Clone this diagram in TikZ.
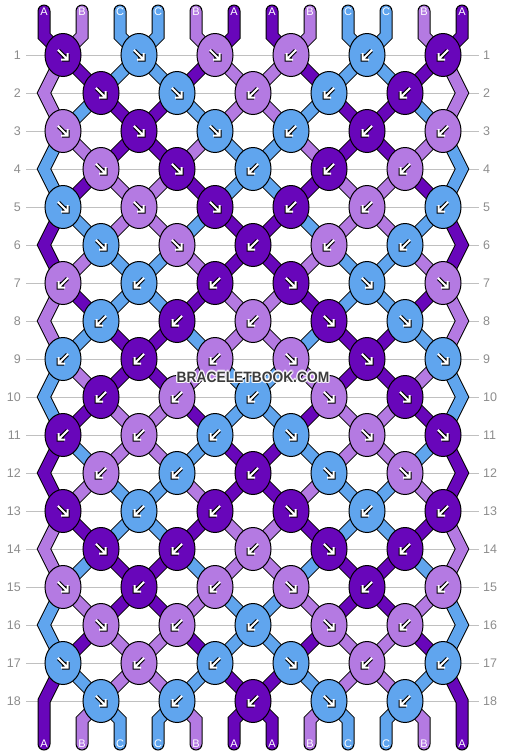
\documentclass[tikz,border=0pt]{standalone}
\usepackage{fontspec}
\setmainfont{Liberation Sans}
\usepackage{graphicx}
\usetikzlibrary{shapes.geometric}
\definecolor{cA}{RGB}{104,6,186}
\definecolor{cB}{RGB}{180,122,226}
\definecolor{cC}{RGB}{96,165,238}
\definecolor{gridgray}{RGB}{192,192,192}
\definecolor{numgray}{RGB}{140,140,140}
\definecolor{wmgray}{RGB}{60,60,60}
\pgfdeclarelayer{bg}
\pgfdeclarelayer{strands}
\pgfsetlayers{bg,strands,main}
\tikzset{
  knot/.style={ellipse, draw=black, line width=1pt, minimum width=36pt, minimum height=43pt, inner sep=0pt},
  rownum/.style={text=numgray, font=\fontsize{12.5}{12.5}\selectfont, inner sep=0pt},
  strlabel/.style={text=white, font=\fontsize{11}{11}\selectfont, inner sep=0pt},
  gridline/.style={draw=gridgray, line width=1pt},
  arrout/.style={draw=black, line width=4pt, line cap=square, line join=miter},
  arrin/.style={draw=white, line width=2pt, line cap=butt, line join=miter},
  wm/.style={font=\fontsize{15}{15}\selectfont\bfseries, inner sep=0pt},
  pics/arrF/.style={code={
    \draw[arrout] (-4.5,-4.5) -- (3.5,3.5) (4.5,-1) -- (4.5,4.5) -- (-1,4.5);
    \draw[arrin] (-5.1,-5.1) -- (3.5,3.5) (4.5,-2) -- (4.5,4.5) -- (-2,4.5);
  }},
  pics/arrB/.style={code={
    \draw[arrout] (4.5,-4.5) -- (-3.5,3.5) (-4.5,-1) -- (-4.5,4.5) -- (1,4.5);
    \draw[arrin] (5.1,-5.1) -- (-3.5,3.5) (-4.5,-2) -- (-4.5,4.5) -- (2,4.5);
  }},
}
\begin{document}
\begin{tikzpicture}[x=1pt,y=-1pt]
\useasboundingbox (0,0) rectangle (506,756);
% knot grid coordinates: N-row-position
\foreach \r in {1,...,18} {
  \pgfmathtruncatemacro\odd{mod(\r,2)}
  \pgfmathtruncatemacro\yy{55+38*(\r-1)}
  \foreach \p in {0,...,11} {
    \ifnum\odd=1
      \pgfmathtruncatemacro\xx{63+76*floor(\p/2)}
    \else
      \pgfmathtruncatemacro\xx{(\p==0) ? 44 : ((\p==11) ? 462 : 101+76*floor((\p-1)/2))}
    \fi
    \coordinate (N-\r-\p) at (\xx,\yy);
  }
}
\foreach \p in {0,...,11} {
  \pgfmathtruncatemacro\xx{44+38*\p}
  \coordinate (S-\p) at (\xx,11);
  \coordinate (U-\p) at (\xx,36);
  \coordinate (D-\p) at (\xx,720);
  \coordinate (Z-\p) at (\xx,744);
}
% grid lines and row numbers
\begin{pgfonlayer}{bg}
\foreach \r in {1,...,18} {
  \pgfmathtruncatemacro\yy{55+38*(\r-1)}
  \coordinate (gl-\r) at (26,\yy);
  \coordinate (gr-\r) at (479,\yy);
  \draw[gridline] (gl-\r) -- (gr-\r);
  \node[rownum, anchor=east] (nl-\r) at (21,\yy) {\r};
  \node[rownum, anchor=west] (nr-\r) at (483,\yy) {\r};
}
\end{pgfonlayer}
% strings
\foreach \s/\col in {0/cA,1/cB,2/cC,3/cC,4/cB,5/cA,6/cA,7/cB,8/cC,9/cC,10/cB,11/cA} {
  \xdef\pp{\s}
  \xdef\mypath{(S-\s) -- (U-\s)}
  \foreach \r in {1,...,18} {
    \xdef\mypath{\mypath -- (N-\r-\pp)}
    \pgfmathtruncatemacro\odd{mod(\r,2)}
    \ifnum\odd=1
      \pgfmathtruncatemacro\np{\pp+1-2*mod(\pp,2)}
    \else
      \pgfmathtruncatemacro\np{(\pp==0 || \pp==11) ? \pp : \pp+2*mod(\pp,2)-1}
    \fi
    \xdef\pp{\np}
  }
  \xdef\mypath{\mypath -- (D-\pp) -- (Z-\pp)}
  \begin{pgfonlayer}{strands}
    \edef\tmp{\noexpand\draw[line width=13pt, draw=black, line cap=round, line join=miter] \mypath;}\tmp
    \edef\tmp{\noexpand\draw[line width=11pt, draw=\col, line cap=round, line join=miter] \mypath;}\tmp
  \end{pgfonlayer}
}
% string labels
\foreach \p/\t in {0/A,1/B,2/C,3/C,4/B,5/A,6/A,7/B,8/C,9/C,10/B,11/A} {
  \node[strlabel] (T-\p) at ([yshift=-1pt]S-\p) {\t};
  \node[strlabel] (L-\p) at (Z-\p) {\t};
}
% knots
\foreach \r/\lst in {
 1/{A/F,C/F,B/F,B/B,C/B,A/B},
 2/{A/F,C/F,B/B,C/B,A/B},
 3/{B/F,A/F,C/F,C/B,A/B,B/B},
 4/{B/F,A/F,C/B,A/B,B/B},
 5/{C/F,B/F,A/F,A/B,B/B,C/B},
 6/{C/F,B/F,A/B,B/B,C/B},
 7/{B/B,C/B,A/B,A/F,C/F,B/F},
 8/{C/B,A/B,B/B,A/F,C/F},
 9/{C/B,A/B,B/B,B/F,A/F,C/F},
 10/{A/B,B/B,C/B,B/F,A/F},
 11/{A/B,B/B,C/B,C/F,B/F,A/F},
 12/{B/B,C/B,A/B,C/F,B/F},
 13/{A/F,C/B,A/B,A/F,C/B,A/B},
 14/{A/F,A/B,B/B,A/F,A/B},
 15/{B/F,A/B,B/B,B/F,A/B,B/B},
 16/{B/F,B/B,C/B,B/F,B/B},
 17/{C/F,B/B,C/B,C/F,B/B,C/B},
 18/{C/F,C/B,A/B,C/F,C/B}} {
  \pgfmathtruncatemacro\odd{mod(\r,2)}
  \foreach \c/\d [count=\k from 0] in \lst {
    \pgfmathtruncatemacro\pk{\odd==1 ? 2*\k : 2*\k+1}
    \node[knot, fill=c\c] (K-\r-\k) at (N-\r-\pk) {};
    \if\d F
      \pic at (K-\r-\k.center) {arrF};
    \else
      \pic at (K-\r-\k.center) {arrB};
    \fi
  }
}
% watermark
\foreach \dx/\dy [count=\i] in {1.3/0,-1.3/0,0/1.3,0/-1.3,1/1,1/-1,-1/1,-1/-1} {
  \node[wm, text=white, opacity=0.75] (wmh-\i) at ({253+\dx},{377+\dy}) {\scalebox{0.92}[1]{BRACELETBOOK.COM}};
}
\node[wm, text=wmgray] (wm) at (253,377) {\scalebox{0.92}[1]{BRACELETBOOK.COM}};
\end{tikzpicture}
\end{document}
